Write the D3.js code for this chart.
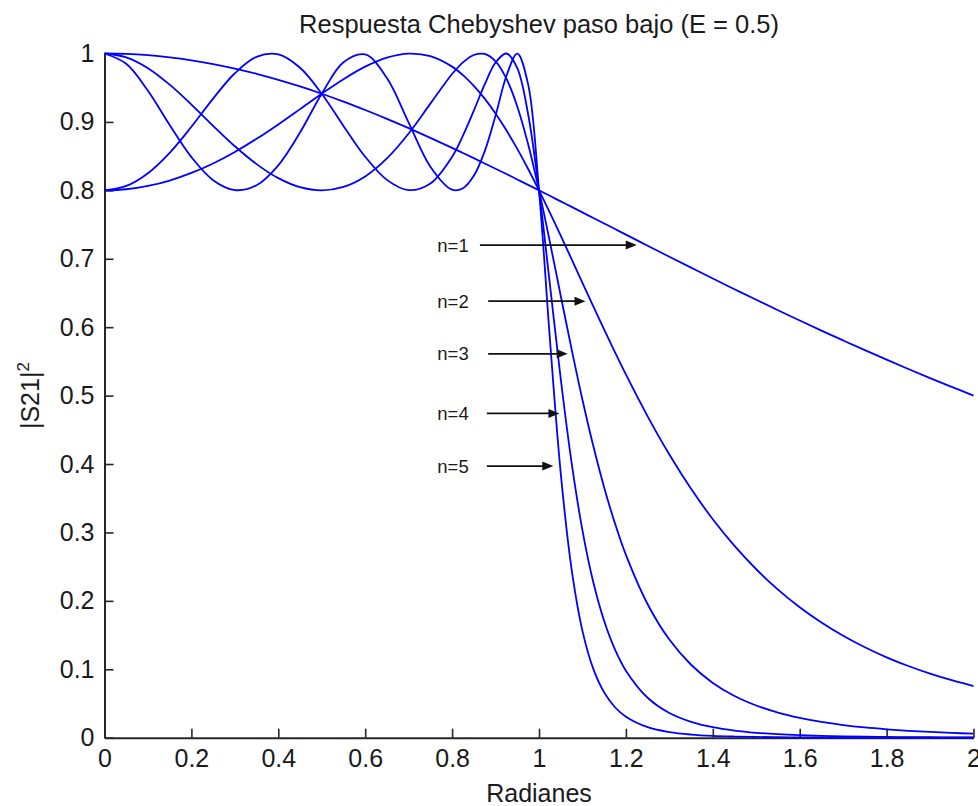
<!DOCTYPE html>
<html>
<head>
<meta charset="utf-8">
<script src="https://cdn.jsdelivr.net/npm/d3@7"></script>
<style>
  body { margin: 0; background: #fff; }
  svg text { font-family: "Liberation Sans", Arial, Helvetica, sans-serif; fill: #1a1a1a; }
</style>
</head>
<body>
<svg id="chart" width="978" height="806"></svg>
<script>
// Frequency axis samples (radians)
const xValues = [0,0.05,0.1,0.15,0.2,0.25,0.3,0.35,0.4,0.45,0.5,0.55,0.6,0.65,0.7,0.75,0.8,
  0.825,0.85,0.875,0.9,0.925,0.95,0.975,1,1.025,1.05,1.075,1.1,1.125,1.15,1.175,1.2,
  1.25,1.3,1.35,1.4,1.45,1.5,1.55,1.6,1.65,1.7,1.75,1.8,1.85,1.9,1.95,2];

// |S21|^2 for filter orders n = 1..5
const s21n1 = [1,0.9994,0.9975,0.9944,0.9901,0.9846,0.9780,0.9703,0.9615,0.9518,0.9412,0.9297,0.9174,0.9045,0.8909,0.8767,0.8621,
  0.8546,0.8470,0.8393,0.8316,0.8238,0.8159,0.8080,0.8000,0.7920,0.7839,0.7759,0.7678,0.7596,0.7515,0.7434,0.7353,
  0.7191,0.7030,0.6870,0.6711,0.6555,0.6400,0.6248,0.6098,0.5950,0.5806,0.5664,0.5525,0.5389,0.5256,0.5127,0.5000];
const s21n2 = [0.8,0.8016,0.8064,0.8143,0.8254,0.8393,0.8561,0.8753,0.8964,0.9187,0.9412,0.9625,0.9808,0.9940,0.9999,0.9961,0.9808,
  0.9684,0.9528,0.9341,0.9123,0.8877,0.8606,0.8312,0.8000,0.7674,0.7337,0.6994,0.6649,0.6305,0.5965,0.5632,0.5309,
  0.4697,0.4139,0.3638,0.3193,0.2803,0.2462,0.2165,0.1907,0.1684,0.1490,0.1322,0.1175,0.1048,0.0937,0.0840,0.0755];
const s21n3 = [1,0.9944,0.9786,0.9545,0.9254,0.8943,0.8644,0.8383,0.8178,0.8046,0.8000,0.8050,0.8203,0.8466,0.8830,0.9267,0.9700,
  0.9871,0.9978,0.9993,0.9885,0.9632,0.9226,0.8673,0.8000,0.7247,0.6460,0.5680,0.4940,0.4263,0.3658,0.3129,0.2672,
  0.1951,0.1434,0.1066,0.0801,0.0610,0.0471,0.0367,0.0290,0.0231,0.0185,0.0150,0.0123,0.0101,0.0084,0.0070,0.0059];
const s21n4 = [0.8,0.8064,0.8251,0.8549,0.8929,0.9341,0.9711,0.9951,0.9986,0.9791,0.9412,0.8942,0.8491,0.8153,0.8003,0.8100,0.8491,
  0.8799,0.9164,0.9547,0.9868,1.0000,0.9786,0.9112,0.8000,0.6631,0.5246,0.4021,0.3031,0.2271,0.1705,0.1287,0.0980,
  0.0584,0.0361,0.0232,0.0153,0.0104,0.0072,0.0051,0.0037,0.0027,0.0020,0.0015,0.0011,0.0009,0.0007,0.0005,0.0004];
const s21n5 = [1,0.9849,0.9455,0.8954,0.8485,0.8149,0.8004,0.8075,0.8366,0.8845,0.9412,0.9872,0.9986,0.9641,0.8989,0.8345,0.8009,
  0.8031,0.8212,0.8570,0.9092,0.9671,0.9999,0.9548,0.8000,0.5835,0.3868,0.2463,0.1562,0.1006,0.0662,0.0445,0.0306,
  0.0154,0.0082,0.0046,0.0027,0.0017,0.0011,0.0007,0.0005,0.0003,0.0002,0.0002,0.0001,0.0001,0.0001,0.0000,0.0000];

// Order annotations: label, arrow height, arrow start and tip (data units)
const orderLabels = ["n=1","n=2","n=3","n=4","n=5"];
const arrowY  = [0.720,0.638,0.561,0.474,0.397];
const arrowX0 = [0.864,0.883,0.883,0.880,0.880];
const arrowX1 = [1.225,1.107,1.066,1.047,1.033];
const labelX  = 0.766;

// Axis ticks
const xTicks = [0,0.2,0.4,0.6,0.8,1,1.2,1.4,1.6,1.8,2];
const xTickLabels = ["0","0.2","0.4","0.6","0.8","1","1.2","1.4","1.6","1.8","2"];
const yTicks = [0,0.1,0.2,0.3,0.4,0.5,0.6,0.7,0.8,0.9,1];
const yTickLabels = ["0","0.1","0.2","0.3","0.4","0.5","0.6","0.7","0.8","0.9","1"];

const series = [s21n1, s21n2, s21n3, s21n4, s21n5];

const svg = d3.select("#chart");
svg.append("rect").attr("width", 978).attr("height", 806).attr("fill", "#fff");

const x = d3.scaleLinear().domain([0, 2]).range([104.5, 973.5]);
const y = d3.scaleLinear().domain([0, 1]).range([737.7, 53.5]);

// Axes (ticks pointing into the plot, no box)
const gx = svg.append("g").attr("transform", `translate(0,${y(0)})`)
  .call(d3.axisBottom(x).tickValues(xTicks)
    .tickFormat((d, i) => xTickLabels[i])
    .tickSizeInner(-9).tickSizeOuter(0).tickPadding(12));
const gy = svg.append("g").attr("transform", `translate(${x(0)},0)`)
  .call(d3.axisLeft(y).tickValues(yTicks)
    .tickFormat((d, i) => yTickLabels[i])
    .tickSizeInner(-9).tickSizeOuter(0).tickPadding(10));

[gx, gy].forEach(g => {
  g.select(".domain").attr("stroke", "#262626").attr("stroke-width", 2);
  g.selectAll(".tick line").attr("stroke", "#262626").attr("stroke-width", 1.6);
  g.selectAll(".tick text").attr("font-size", 25).attr("fill", "#1a1a1a")
    .style("font-family", "'Liberation Sans', Arial, sans-serif");
});

// Response curves
const line = d3.line()
  .x((d, i) => x(xValues[i]))
  .y(d => y(d))
  .curve(d3.curveCatmullRom.alpha(0.5));

svg.append("g").selectAll("path")
  .data(series)
  .join("path")
  .attr("d", line)
  .attr("fill", "none")
  .attr("stroke", "#0000ff")
  .attr("stroke-width", 1.8)
  .attr("stroke-linejoin", "round");

// Order labels with arrows
const ann = svg.append("g");
orderLabels.forEach((lab, i) => {
  const yy = y(arrowY[i]);
  const xa = x(arrowX0[i]);
  const xb = x(arrowX1[i]);
  ann.append("line")
    .attr("x1", xa).attr("y1", yy)
    .attr("x2", xb - 8).attr("y2", yy)
    .attr("stroke", "#111").attr("stroke-width", 1.8);
  ann.append("path")
    .attr("d", `M${xb},${yy} L${xb - 11},${yy - 4.5} L${xb - 11},${yy + 4.5} Z`)
    .attr("fill", "#111");
  ann.append("text")
    .attr("x", x(labelX)).attr("y", yy + 6.5)
    .attr("font-size", 18.5)
    .text(lab);
});

// Title and axis labels
svg.append("text")
  .attr("x", (x(0) + x(2)) / 2).attr("y", 33)
  .attr("text-anchor", "middle")
  .attr("font-size", 25.5)
  .text("Respuesta Chebyshev paso bajo (E = 0.5)");

svg.append("text")
  .attr("x", (x(0) + x(2)) / 2).attr("y", 802)
  .attr("text-anchor", "middle")
  .attr("font-size", 25)
  .text("Radianes");

const yl = svg.append("text")
  .attr("transform", `translate(39,${(y(0) + y(1)) / 2}) rotate(-90)`)
  .attr("text-anchor", "middle")
  .attr("font-size", 25);
yl.append("tspan").text("|S21|");
yl.append("tspan").attr("font-size", 17).attr("dy", -10).text("2");
</script>
</body>
</html>
